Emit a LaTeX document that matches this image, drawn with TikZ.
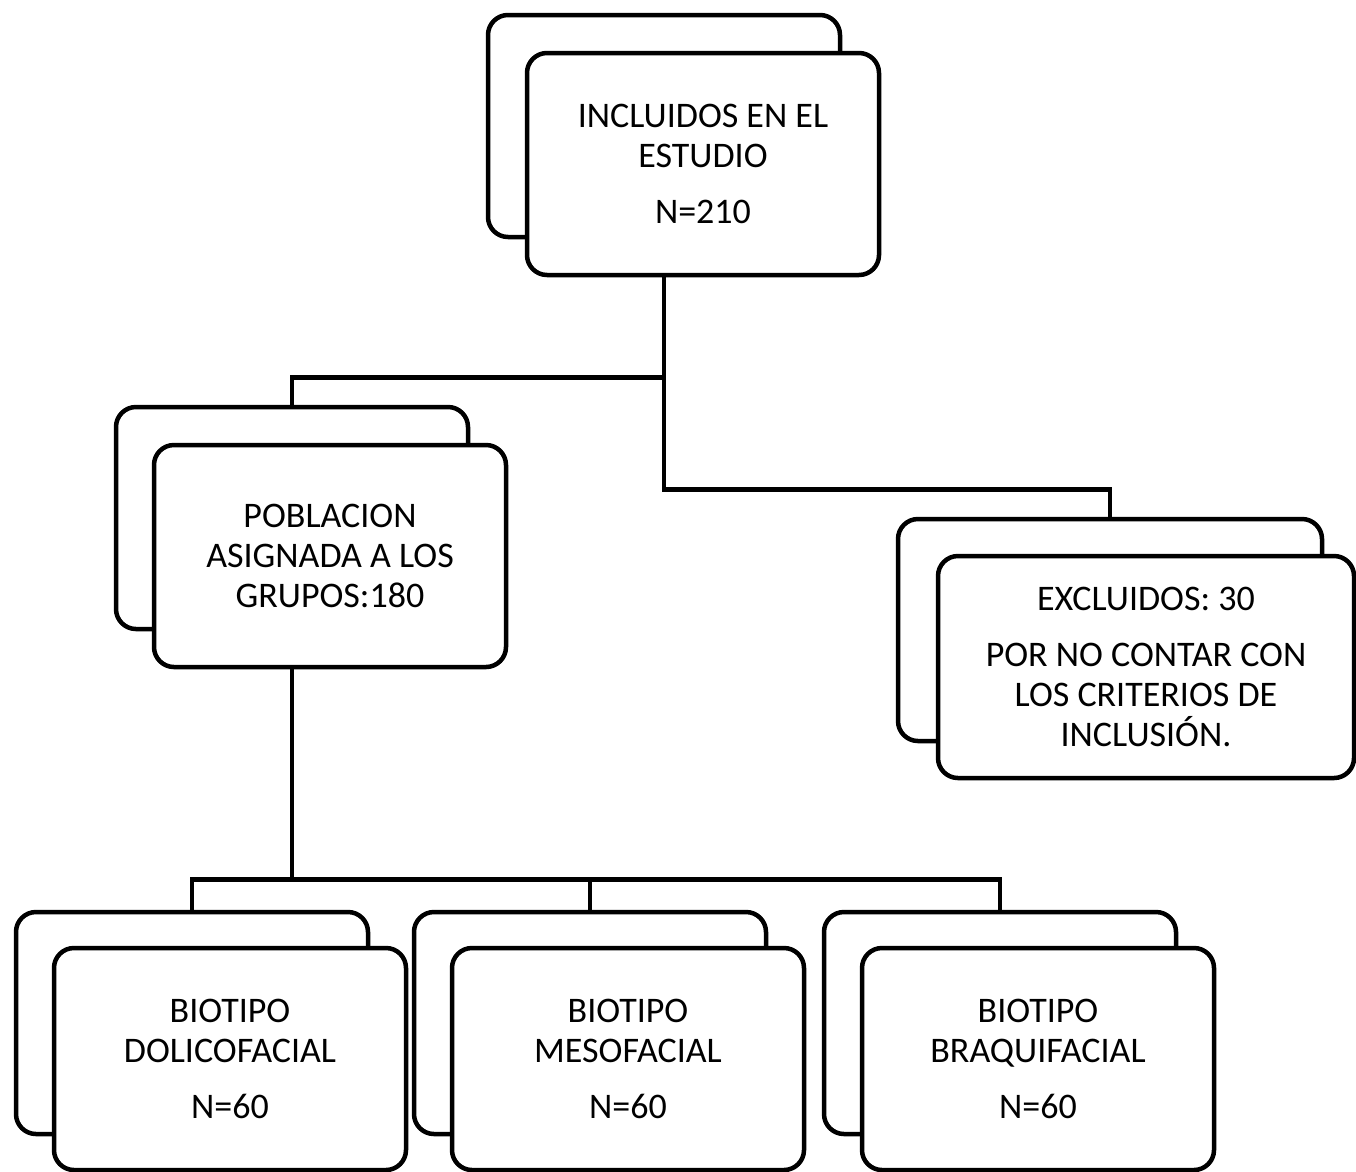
\documentclass[tikz,border=0pt]{standalone}
\usepackage{fontspec}
\setmainfont{Carlito}
\usetikzlibrary{calc}
\usetikzlibrary{positioning}

\begin{document}
\begin{tikzpicture}
    [%
        x=1pt,%
        y=-1pt,%
        back card/.style={%
            draw,%
            fill=white,%
            line width=4.5pt,%
            rounded corners=20pt,%
            minimum width=352pt,%
            minimum height=222pt%
        },%
        front card/.style={%
            back card,%
            align=center,%
            font=\fontsize{36}{40}\selectfont%
        },%
        link/.style={%
            draw,%
            line width=4.5pt%
        }%
    ]%
%
    \useasboundingbox (0,0) rectangle (1356,1171);
    % each card: a back sheet, then the front sheet with the text
    \node[back card] (incluidos-back) at (664,126) {};
    \node[front card] (incluidos) at ($(incluidos-back)+(39,38)$)
        {INCLUIDOS EN EL\\ESTUDIO\\[16pt]N=210};
%
    \node[back card] (poblacion-back) at (292,518) {};
    \node[front card] (poblacion) at ($(poblacion-back)+(38,38)$)
        {POBLACION\\ASIGNADA A LOS\\GRUPOS:180};
%
    \node[back card,minimum width=424pt] (excluidos-back) at (1110,630) {};
    \node[front card,minimum width=416pt] (excluidos) at ($(excluidos-back)+(36,37)$)
        {EXCLUIDOS: 30\\[16pt]POR NO CONTAR CON\\LOS CRITERIOS DE\\INCLUSIÓN.};
%
    % the three biotype groups
    % \name node name, \x centre of the back sheet, \kind biotype
    \foreach \name/\x/\kind in {%
        dolico/192/DOLICOFACIAL,%
        meso/590/MESOFACIAL,%
        braqui/1000/BRAQUIFACIAL%
    }{
        \node[back card] (\name-back) at (\x,1023) {};
        \node[front card] (\name) at ($(\name-back)+(38,36)$)
            {BIOTIPO\\\kind\\[16pt]N=60};
    } % \foreach \name/\x/\kind
%
    % connectors
    \coordinate (split-top) at ($(incluidos-back.center |- incluidos.south)+(0,100)$);
    \draw[link] (incluidos-back.center |- incluidos.south) -- (split-top) -| (poblacion-back.north);
    \draw[link] (split-top) -- ++(0,112) -| (excluidos-back.north);
    \coordinate (split-bottom) at ($(poblacion-back.center |- poblacion.south)+(0,210)$);
    \draw[link] (poblacion-back.center |- poblacion.south) -- (split-bottom);
    \draw[link] (dolico-back.north) |- (split-bottom) -| (braqui-back.north);
    \draw[link] (meso-back.north) -- (meso-back.north |- split-bottom);
\end{tikzpicture}
\end{document}
